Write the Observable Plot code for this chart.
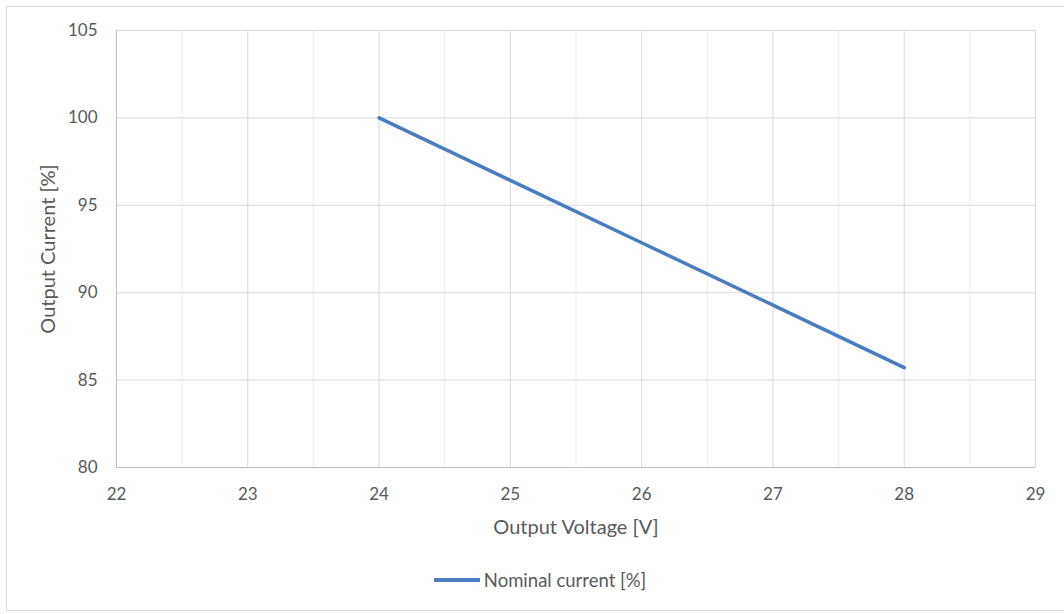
<!DOCTYPE html>
<html>
<head>
<meta charset="utf-8">
<script src="https://cdn.jsdelivr.net/npm/d3@7"></script>
<script src="https://cdn.jsdelivr.net/npm/@observablehq/plot@0.6"></script>
<style>
  html, body { margin: 0; padding: 0; background: #fff; }
  #wrap { position: relative; width: 1064px; height: 614px; overflow: hidden; font-family: Lato, "Open Sans", sans-serif; }
  #frame { position: absolute; left: 6px; top: 6px; width: 1070px; height: 605px; border: 1px solid #d9d9d9; box-sizing: border-box; }
  #chart { position: absolute; left: 0; top: 0; }
  #legend { position: absolute; top: 569px; left: 8px; width: 1064px; display: flex; justify-content: center; align-items: center; font-size: 18.5px; color: #595959; }
  #legend .sw { display: inline-block; width: 46px; height: 3.5px; background: #4a7dbf; margin-right: 4px; margin-left: 0px; }
</style>
</head>
<body>
<div id="wrap">
  <div id="frame"></div>
  <div id="chart"></div>
  <div id="legend"><span class="sw"></span><span>Nominal current [%]</span></div>
</div>
<script>
const seriesName = "Nominal current [%]";
const voltage = [24, 25, 26, 27, 28];
const current = [100, 96.43, 92.86, 89.29, 85.71];
const xTicks = [22, 23, 24, 25, 26, 27, 28, 29];
const xMinorTicks = [22.5, 23.5, 24.5, 25.5, 26.5, 27.5, 28.5];
const yTicks = [80, 85, 90, 95, 100, 105];
const xLabel = "Output Voltage [V]";
const yLabel = "Output Current [%]";

const data = voltage.map((v, i) => ({v, c: current[i]}));

const chart = Plot.plot({
  width: 1064,
  height: 560,
  marginLeft: 116,
  marginRight: 29,
  marginTop: 30,
  marginBottom: 93,
  style: { fontFamily: "Lato, 'Open Sans', sans-serif", fontSize: "17px", color: "#595959", background: "transparent" },
  x: { domain: [22, 29] },
  y: { domain: [80, 105] },
  marks: [
    Plot.ruleX(xMinorTicks, { stroke: "#ededed", strokeWidth: 1 }),
    Plot.ruleX(xTicks, { stroke: "#d9d9d9", strokeWidth: 1 }),
    Plot.ruleY(yTicks, { stroke: "#d9d9d9", strokeWidth: 1 }),
    Plot.ruleX([22], { stroke: "#bfbfbf", strokeWidth: 1 }),
    Plot.ruleY([80], { stroke: "#bfbfbf", strokeWidth: 1 }),
    Plot.axisX(xTicks, { tickSize: 0, tickPadding: 20, label: null, tickFormat: d => String(d) }),
    Plot.axisY(yTicks, { tickSize: 0, tickPadding: 19, label: null, tickFormat: d => String(d) }),
    Plot.text([xLabel], { frameAnchor: "bottom", dy: 66, fontSize: 20, fill: "#595959" }),
    Plot.text([yLabel], { frameAnchor: "left", textAnchor: "middle", dx: -68, rotate: -90, fontSize: 20, fill: "#595959" }),
    Plot.line(data, { x: "v", y: "c", stroke: "#4a7dbf", strokeWidth: 3.5 })
  ]
});
document.getElementById("chart").appendChild(chart);
</script>
</body>
</html>
